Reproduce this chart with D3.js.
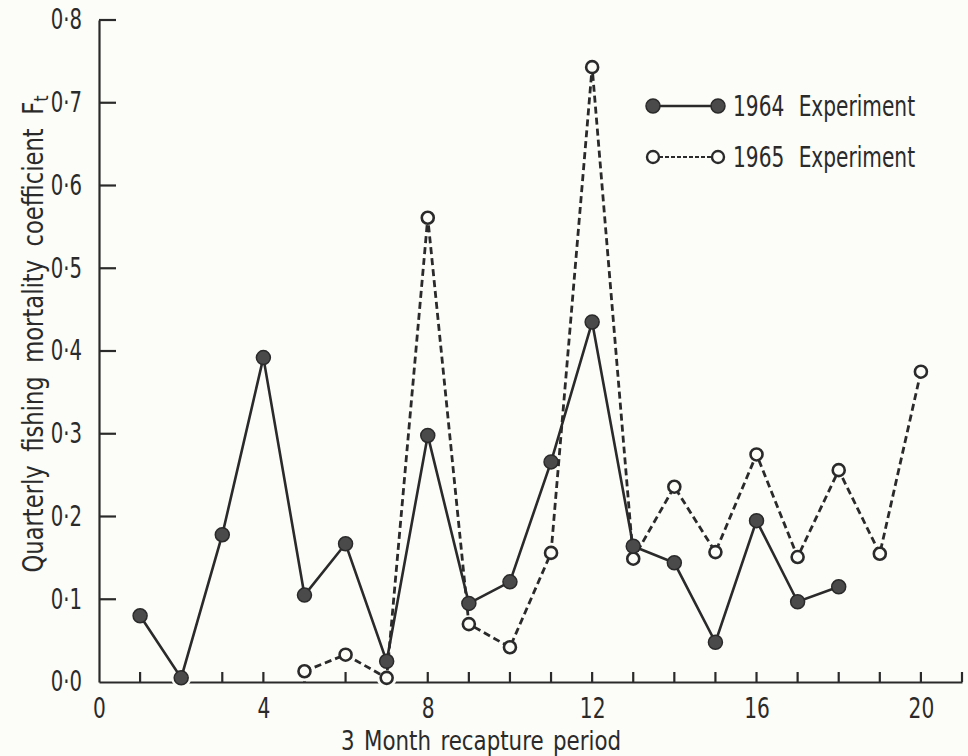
<!DOCTYPE html>
<html>
<head>
<meta charset="utf-8">
<script src="https://cdn.jsdelivr.net/npm/d3@7/dist/d3.min.js"></script>
<style>
    body { margin: 0; background: #fcfcf8; }
    #chart { width: 968px; height: 756px; }
    text { font-family: "DejaVu Sans Condensed", "Liberation Sans Narrow", sans-serif; fill: #2a2a2a; }
</style>
</head>
<body>
<div id="chart"></div>
<script>
// Data
const periods1964 = [1, 2, 3, 4, 5, 6, 7, 8, 9, 10, 11, 12, 13, 14, 15, 16, 17, 18];
const values1964 = [0.080, 0.005, 0.178, 0.392, 0.105, 0.167, 0.025, 0.298, 0.095, 0.121, 0.266, 0.435, 0.164, 0.144, 0.048, 0.195, 0.097, 0.115];

const periods1965 = [5, 6, 7, 8, 9, 10, 11, 12, 13, 14, 15, 16, 17, 18, 19, 20];
const values1965 = [0.013, 0.033, 0.005, 0.561, 0.070, 0.042, 0.156, 0.743, 0.149, 0.236, 0.157, 0.275, 0.151, 0.256, 0.155, 0.375];

const xTicks = d3.range(0, 22);
const xLabels = [0, 4, 8, 12, 16, 20];
const yTicks = [0, 0.1, 0.2, 0.3, 0.4, 0.5, 0.6, 0.7, 0.8];

const seriesNames = ['1964 Experiment', '1965 Experiment'];

const width = 968;
const height = 756;
const ink = '#2a2a2a';
const fillDot = '#4a4a4a';
const paper = '#fcfcf8';

const xScale = d3.scaleLinear()
    .domain([0, 21])
    .range([99, 962]);

const yScale = d3.scaleLinear()
    .domain([0, 0.8])
    .range([682, 20]);

const svg = d3.select('#chart')
    .append('svg')
    .attr('width', width)
    .attr('height', height);

// squeeze text horizontally, the original uses a narrow DIN-like face
function squeeze(sel, k) {
    sel.each(function () {
        const t = d3.select(this);
        const x = +t.attr('x') || 0;
        const y = +t.attr('y') || 0;
        t.attr('x', null).attr('y', null)
            .attr('transform', `translate(${x},${y}) scale(${k},1)`);
    });
}

// x axis
const xAxis = svg.append('g')
    .attr('transform', 'translate(0,' + yScale(0) + ')')
    .call(d3.axisBottom(xScale)
        .tickValues(xTicks)
        .tickSize(0)
        .tickPadding(16)
        .tickFormat(d => xLabels.includes(d) ? d : ''));

xAxis.select('.domain').attr('stroke', ink).attr('stroke-width', 2.2);
xAxis.selectAll('.tick line').remove();
xAxis.selectAll('text')
    .style('font-size', '28px')
    .attr('fill', ink)
    .call(squeeze, 0.8);

// x ticks, pointing up
const xTickPath = xTicks.filter(d => d > 0)
    .map(d => `M${xScale(d)},${yScale(0)}V${yScale(0) - 10}`).join('');
svg.append('path')
    .attr('class', 'x-ticks')
    .attr('d', xTickPath)
    .attr('fill', 'none')
    .attr('stroke', ink)
    .attr('stroke-width', 2.2);

// y axis
const yAxis = svg.append('g')
    .attr('transform', 'translate(' + xScale(0) + ',0)')
    .call(d3.axisLeft(yScale)
        .tickValues(yTicks)
        .tickSize(0)
        .tickPadding(17)
        .tickFormat(d => d3.format('.1f')(d).replace('.', '·')));

yAxis.select('.domain').attr('stroke', ink).attr('stroke-width', 2.2);
yAxis.selectAll('.tick line').remove();
yAxis.selectAll('text')
    .style('font-size', '28px')
    .attr('fill', ink)
    .call(squeeze, 0.78);

// y ticks, pointing right
svg.append('g')
    .selectAll('line')
    .data(yTicks.filter(d => d > 0))
    .join('line')
    .attr('x1', xScale(0))
    .attr('x2', xScale(0) + 17)
    .attr('y1', d => yScale(d))
    .attr('y2', d => yScale(d))
    .attr('stroke', ink)
    .attr('stroke-width', 2.2);

// axis titles
svg.append('text')
    .attr('transform', 'translate(481,750) scale(0.88,1)')
    .attr('text-anchor', 'middle')
    .style('font-size', '27px')
    .style('word-spacing', '3px')
    .text('3 Month recapture period');

const yTitle = svg.append('text')
    .attr('transform', 'translate(43,334) rotate(-90) scale(0.9,1)')
    .attr('text-anchor', 'middle')
    .style('font-size', '28px')
    .style('word-spacing', '7px');
yTitle.append('tspan').text('Quarterly fishing mortality coefficient F');
yTitle.append('tspan').attr('dy', 5).style('font-size', '20px').text('t');

const data1964 = periods1964.map((p, i) => [p, values1964[i]]);
const data1965 = periods1965.map((p, i) => [p, values1965[i]]);

const line = d3.line()
    .x(d => xScale(d[0]))
    .y(d => yScale(d[1]));

// halos to break the axis under markers
svg.append('g')
    .selectAll('circle')
    .data(data1964.concat(data1965))
    .join('circle')
    .attr('cx', d => xScale(d[0]))
    .attr('cy', d => yScale(d[1]))
    .attr('r', 10)
    .attr('fill', paper);

// 1965 line
svg.append('path')
    .attr('fill', 'none')
    .attr('stroke', ink)
    .attr('stroke-width', 2.8)
    .attr('stroke-dasharray', '7,4')
    .attr('d', line(data1965));

// 1964 line
svg.append('path')
    .attr('fill', 'none')
    .attr('stroke', ink)
    .attr('stroke-width', 2.6)
    .attr('d', line(data1964));

// 1965 points
svg.append('g')
    .selectAll('circle')
    .data(data1965)
    .join('circle')
    .attr('cx', d => xScale(d[0]))
    .attr('cy', d => yScale(d[1]))
    .attr('r', 6)
    .attr('fill', paper)
    .attr('stroke', ink)
    .attr('stroke-width', 2.6);

// 1964 points
svg.append('g')
    .selectAll('circle')
    .data(data1964)
    .join('circle')
    .attr('cx', d => xScale(d[0]))
    .attr('cy', d => yScale(d[1]))
    .attr('r', 7)
    .attr('fill', fillDot)
    .attr('stroke', ink)
    .attr('stroke-width', 1.5);

// legend
const legend = svg.append('g');
const legendRows = [
    { name: seriesNames[0], y: 106, dash: null, fill: fillDot, r: 7 },
    { name: seriesNames[1], y: 157, dash: '4,2', fill: paper, r: 6 }
];

legendRows.forEach(row => {
    legend.append('line')
        .attr('x1', 653).attr('x2', 718)
        .attr('y1', row.y).attr('y2', row.y)
        .attr('stroke', ink)
        .attr('stroke-width', row.dash ? 1.8 : 2.6)
        .attr('stroke-dasharray', row.dash);
    [653, 718].forEach(cx => {
        legend.append('circle')
            .attr('cx', cx).attr('cy', row.y)
            .attr('r', row.r)
            .attr('fill', row.fill)
            .attr('stroke', ink)
            .attr('stroke-width', row.dash ? 2.4 : 1.5);
    });
    legend.append('text')
        .attr('transform', `translate(733,${row.y + 10}) scale(0.8,1)`)
        .style('font-size', '28px')
        .style('word-spacing', '10px')
        .text(row.name);
});
</script>
</body>
</html>
